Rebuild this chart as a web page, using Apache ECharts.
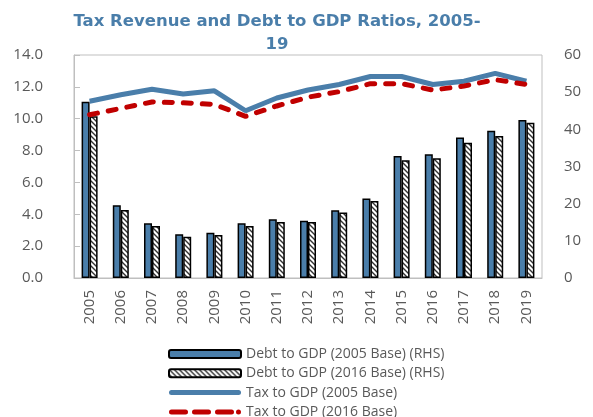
<!DOCTYPE html>
<html>
<head>
<meta charset="utf-8">
<script src="https://cdn.jsdelivr.net/npm/echarts@6/dist/echarts.min.js"></script>
<style>
  html, body { margin: 0; padding: 0; background: #fff; }
  #chart { width: 593px; height: 417px; }
</style>
</head>
<body>
<div id="chart"></div>
<script>
var years = ['2005', '2006', '2007', '2008', '2009', '2010', '2011', '2012',
    '2013', '2014', '2015', '2016', '2017', '2018', '2019'];

// debt to GDP, right axis (%)
var debt2005 = [47.4, 19.6, 14.7, 11.8, 12.2, 14.7, 15.8, 15.4, 18.2, 21.4, 32.8, 33.3, 37.8, 39.6, 42.5];
var debt2016 = [43.5, 18.3, 14.0, 11.1, 11.6, 14.0, 15.1, 15.1, 17.6, 20.7, 31.7, 32.2, 36.4, 38.2, 41.8];

// tax to GDP, left axis (%)
var tax2005 = [11.1, 11.5, 11.85, 11.55, 11.75, 10.5, 11.3, 11.8, 12.15, 12.65, 12.65, 12.15, 12.35, 12.85, 12.35];
var tax2016 = [10.25, 10.65, 11.05, 11.0, 10.9, 10.15, 10.8, 11.35, 11.7, 12.2, 12.2, 11.8, 12.05, 12.45, 12.15];

var leftTicks = { min: 0, max: 14, interval: 2 };
var rightTicks = { min: 0, max: 60, interval: 10 };

var names = ['Debt to GDP (2005 Base) (RHS)', 'Debt to GDP (2016 Base) (RHS)',
    'Tax to GDP (2005 Base)', 'Tax to GDP (2016 Base)'];

var steel = '#4A7EAA';
var red = '#C00000';
var grey = '#595959';

// legend icons for the two lines (solid and dashed, rounded ends)
function seg(x0, x1) {
    return 'M' + (x0 + 2.5) + ',0 H' + (x1 - 2.5) + ' A2.5,2.5 0 0 1 ' + (x1 - 2.5) + ',5 H' +
        (x0 + 2.5) + ' A2.5,2.5 0 0 1 ' + (x0 + 2.5) + ',0 Z ';
}
var solidIcon = 'path://' + seg(0, 72);
var dashIcon = 'path://' + seg(0, 19) + seg(23, 42) + seg(46, 65) + seg(67, 72);

// hatch pattern for the 2016 base bars
function hatch() {
    var c = document.createElement('canvas');
    c.width = 5;
    c.height = 5;
    var ctx = c.getContext('2d');
    ctx.fillStyle = '#fff';
    ctx.fillRect(0, 0, 5, 5);
    ctx.strokeStyle = '#333';
    ctx.lineWidth = 1.4;
    ctx.beginPath();
    ctx.moveTo(-1, -1); ctx.lineTo(6, 6);
    ctx.moveTo(-1, 4); ctx.lineTo(1, 6);
    ctx.moveTo(4, -1); ctx.lineTo(6, 1);
    ctx.stroke();
    return c;
}

var chart = echarts.init(document.getElementById('chart'));

chart.setOption({
    animation: false,
    textStyle: { fontFamily: 'Open Sans' },
    title: {
        text: 'Tax Revenue and Debt to GDP Ratios, 2005-\n19',
        left: 272,
        top: 5,
        textAlign: 'center',
        textStyle: { color: steel, fontSize: 16.5, fontWeight: 'bold', lineHeight: 23, fontFamily: 'DejaVu Sans' }
    },
    grid: {
        left: 74, right: 51, top: 55, bottom: 139,
        show: true, borderColor: '#BFBFBF', borderWidth: 1
    },
    legend: {
        orient: 'vertical',
        left: 163,
        top: 342,
        height: 90,
        itemWidth: 72,
        itemHeight: 8,
        itemGap: 5.3,
        textStyle: { color: grey, fontSize: 14 },
        data: [
            { name: names[0] },
            { name: names[1] },
            { name: names[2], icon: solidIcon },
            { name: names[3], icon: dashIcon }
        ]
    },
    xAxis: {
        type: 'category',
        data: years,
        axisLine: { lineStyle: { color: '#BFBFBF' } },
        axisTick: { inside: true, length: 5, lineStyle: { color: '#BFBFBF' } },
        axisLabel: { rotate: 90, color: grey, fontSize: 15, margin: 12 }
    },
    yAxis: [{
        type: 'value',
        min: leftTicks.min, max: leftTicks.max, interval: leftTicks.interval,
        axisLine: { show: true, lineStyle: { color: '#BFBFBF' } },
        axisTick: { show: true, inside: true, length: 6, lineStyle: { color: '#BFBFBF' } },
        splitLine: { show: false },
        axisLabel: {
            color: grey, fontSize: 15, margin: 31,
            formatter: function (v) { return v.toFixed(1); }
        }
    }, {
        type: 'value',
        min: rightTicks.min, max: rightTicks.max, interval: rightTicks.interval,
        axisLine: { show: false },
        axisTick: { show: false },
        splitLine: { show: false },
        axisLabel: { color: grey, fontSize: 15, margin: 22 }
    }],
    series: [{
        name: names[0],
        type: 'bar',
        yAxisIndex: 1,
        data: debt2005,
        barWidth: 8,
        barGap: '0%',
        itemStyle: { color: steel, borderColor: '#000', borderWidth: 1.5 }
    }, {
        name: names[1],
        type: 'bar',
        yAxisIndex: 1,
        data: debt2016,
        barWidth: 8,
        itemStyle: { color: { image: hatch(), repeat: 'repeat' }, borderColor: '#000', borderWidth: 1.5 }
    }, {
        name: names[2],
        type: 'line',
        yAxisIndex: 0,
        data: tax2005,
        symbol: 'none',
        lineStyle: { color: steel, width: 5 },
        itemStyle: { color: steel }
    }, {
        name: names[3],
        type: 'line',
        yAxisIndex: 0,
        data: tax2016,
        symbol: 'none',
        lineStyle: { color: red, width: 5, type: [8, 11], cap: 'round' },
        itemStyle: { color: red }
    }]
});
</script>
</body>
</html>
